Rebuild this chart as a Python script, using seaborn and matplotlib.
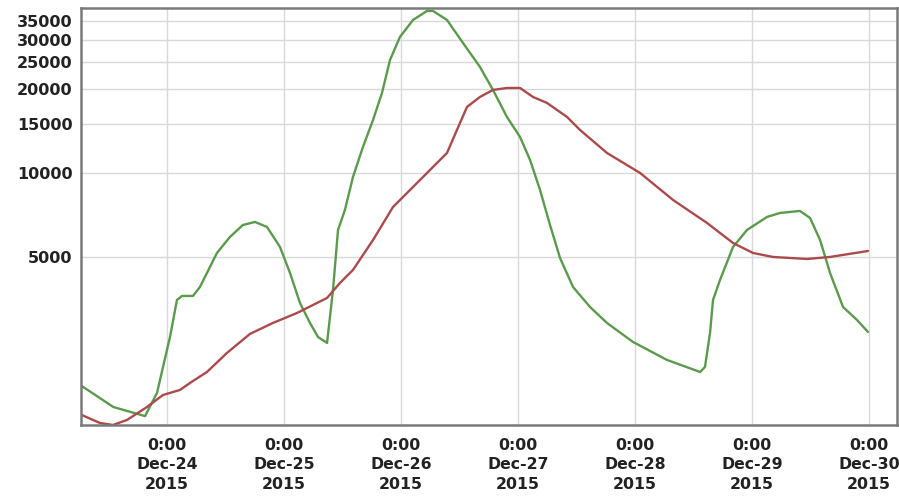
import matplotlib
matplotlib.use("Agg")
import matplotlib.pyplot as plt
import matplotlib.dates as mdates
from matplotlib.ticker import FixedLocator, FixedFormatter, NullLocator
import pandas as pd
import seaborn as sns

green_times = [
    "2015-12-23 06:30", "2015-12-23 13:00", "2015-12-23 19:30", "2015-12-23 21:57",
    "2015-12-24 00:37", "2015-12-24 02:03", "2015-12-24 03:05", "2015-12-24 05:20",
    "2015-12-24 06:46", "2015-12-24 10:15", "2015-12-24 12:55", "2015-12-24 15:35",
    "2015-12-24 18:03", "2015-12-24 20:31", "2015-12-24 23:11", "2015-12-25 01:14",
    "2015-12-25 03:17", "2015-12-25 05:20", "2015-12-25 06:58", "2015-12-25 08:50",
    "2015-12-25 10:03", "2015-12-25 11:05", "2015-12-25 12:30", "2015-12-25 14:09",
    "2015-12-25 16:12", "2015-12-25 18:16", "2015-12-25 20:06", "2015-12-25 21:45",
    "2015-12-25 23:47", "2015-12-26 02:28", "2015-12-26 05:20", "2015-12-26 06:34",
    "2015-12-26 09:26", "2015-12-26 12:43", "2015-12-26 16:12", "2015-12-26 18:52",
    "2015-12-26 21:44", "2015-12-27 00:25", "2015-12-27 02:28", "2015-12-27 04:31",
    "2015-12-27 06:34", "2015-12-27 08:37", "2015-12-27 11:17", "2015-12-27 14:46",
    "2015-12-27 18:15", "2015-12-27 23:35", "2015-12-28 06:35", "2015-12-28 13:21",
    "2015-12-28 14:21", "2015-12-28 15:23", "2015-12-28 16:00", "2015-12-28 17:26",
    "2015-12-28 20:06", "2015-12-28 22:58", "2015-12-29 03:04", "2015-12-29 05:44",
    "2015-12-29 09:50", "2015-12-29 11:54", "2015-12-29 13:57", "2015-12-29 16:00",
    "2015-12-29 18:40", "2015-12-29 21:32", "2015-12-29 23:47",
]
green_values = [
    1725, 1450, 1345, 1628,
    2584, 3507, 3625, 3625,
    3904, 5168, 5898, 6511,
    6675, 6405, 5430, 4382,
    3421, 2901, 2584, 2460,
    3809, 6248, 7369, 9676,
    12392, 15486, 19348, 25405,
    30713, 35336, 38061, 38061,
    35336, 29230, 23980, 19835,
    15873, 13458, 11132, 8691,
    6511, 4959, 3904, 3310,
    2901, 2480, 2137, 1936,
    2018, 2671, 3507, 4136,
    5430, 6248, 6956, 7189,
    7309, 6899, 5753, 4382,
    3310, 2973, 2693,
]

red_times = [
    "2015-12-23 06:30", "2015-12-23 10:15", "2015-12-23 12:55", "2015-12-23 15:48",
    "2015-12-23 19:54", "2015-12-23 23:11", "2015-12-24 02:40", "2015-12-24 04:43",
    "2015-12-24 08:12", "2015-12-24 12:18", "2015-12-24 17:01", "2015-12-24 21:44",
    "2015-12-25 02:40", "2015-12-25 08:50", "2015-12-25 11:29", "2015-12-25 14:09",
    "2015-12-25 18:16", "2015-12-25 22:22", "2015-12-26 02:28", "2015-12-26 05:57",
    "2015-12-26 09:26", "2015-12-26 12:06", "2015-12-26 13:32", "2015-12-26 16:12",
    "2015-12-26 18:52", "2015-12-26 21:44", "2015-12-27 00:25", "2015-12-27 03:04",
    "2015-12-27 05:57", "2015-12-27 10:03", "2015-12-27 12:43", "2015-12-27 18:15",
    "2015-12-28 01:02", "2015-12-28 07:48", "2015-12-28 14:46", "2015-12-28 20:06",
    "2015-12-29 00:12", "2015-12-29 04:18", "2015-12-29 11:17", "2015-12-29 16:00",
    "2015-12-29 23:47",
]
red_values = [
    1358, 1271, 1250, 1303,
    1450, 1601, 1669, 1768,
    1936, 2265, 2650, 2901,
    3150, 3566, 4035, 4492,
    5753, 7554, 8909, 10250,
    11794, 15106, 17238, 18723,
    19835, 20162, 20162, 18723,
    17817, 15873, 14259, 11794,
    10000, 8003, 6620, 5612,
    5168, 5000, 4918, 5000,
    5254,
]

y_ticks = [5000, 10000, 15000, 20000, 25000, 30000, 35000]
x_ticks = ["2015-12-24", "2015-12-25", "2015-12-26", "2015-12-27",
           "2015-12-28", "2015-12-29", "2015-12-30"]

df = pd.concat([
    pd.DataFrame({"time": pd.to_datetime(green_times), "value": green_values, "series": "green"}),
    pd.DataFrame({"time": pd.to_datetime(red_times), "value": red_values, "series": "red"}),
], ignore_index=True)

sns.set_style("white")
plt.rcParams["font.family"] = ["DejaVu Sans"]

fig = plt.figure(figsize=(8.99, 4.98), dpi=100)
ax = fig.add_axes([81 / 899, 1 - 425 / 498, (897 - 81) / 899, (425 - 8) / 498])

sns.lineplot(data=df, x="time", y="value", hue="series",
             palette={"green": "#5b9a4c", "red": "#ab4a4c"},
             linewidth=1.7, legend=False, ax=ax, estimator=None, sort=False)

ax.set_yscale("log")
ax.set_ylim(1250, 39000)
ax.set_xlim(pd.Timestamp("2015-12-23 06:22"), pd.Timestamp("2015-12-30 05:44"))

ax.yaxis.set_major_locator(FixedLocator(y_ticks))
ax.yaxis.set_major_formatter(FixedFormatter([str(v) for v in y_ticks]))
ax.yaxis.set_minor_locator(NullLocator())

ax.set_xticks(pd.to_datetime(x_ticks))
ax.xaxis.set_major_formatter(mdates.DateFormatter("%-H:%M\n%b-%d\n%Y"))
ax.xaxis.set_minor_locator(NullLocator())

ax.grid(True, which="major", color="#d9d9d9", linewidth=1.0)
ax.set_axisbelow(True)

for lbl in ax.get_yticklabels():
    lbl.set_fontweight("bold")
    lbl.set_fontsize(11.5)
    lbl.set_color("#222222")
for lbl in ax.get_xticklabels():
    lbl.set_fontweight("bold")
    lbl.set_fontsize(11.3)
    lbl.set_color("#222222")
    lbl.set_linespacing(1.38)

ax.tick_params(axis="y", length=0, pad=6)
ax.tick_params(axis="x", length=0, pad=9)

for side in ["left", "right", "top", "bottom"]:
    ax.spines[side].set_visible(True)
    ax.spines[side].set_color("#7a7a7a")
    ax.spines[side].set_linewidth(1.8)

ax.set_xlabel("")
ax.set_ylabel("")

fig.savefig("out.png", dpi=100)
